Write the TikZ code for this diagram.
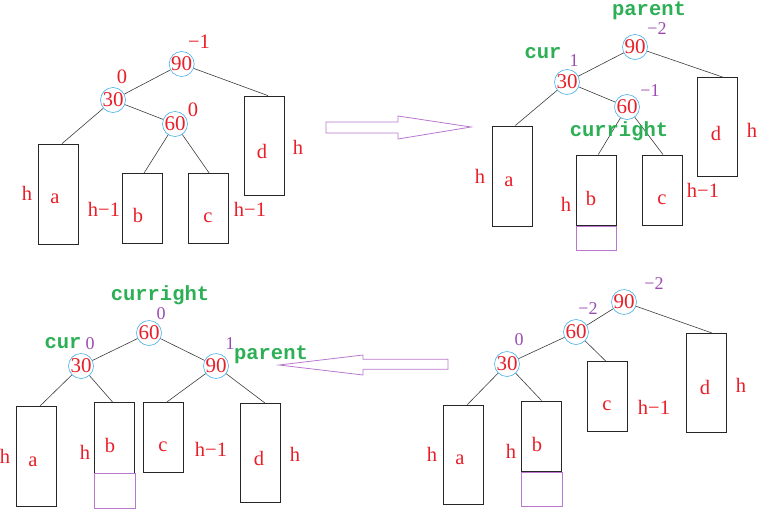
\documentclass[tikz,border=0pt]{standalone}
\usepackage{fontspec}
\setmainfont{Liberation Serif}
\newfontfamily\ptrfont{Liberation Mono}
\definecolor{lblred}{RGB}{232,30,40}
\definecolor{bfpurple}{RGB}{155,75,175}
\definecolor{ptrgreen}{RGB}{45,175,85}
\definecolor{ringblue}{RGB}{70,175,230}
\definecolor{hollow}{RGB}{185,120,205}
\definecolor{edgegray}{RGB}{60,60,60}
\tikzset{
  keynode/.style={circle, draw=ringblue, line width=0.6pt, minimum size=25pt,
    inner sep=-2pt, text=lblred, font=\fontsize{21}{21}\selectfont},
  subtree/.style={draw=black!85, line width=0.8pt, minimum width=40pt,
    minimum height=#1, inner sep=0pt},
  tag/.style={text=lblred, font=\fontsize{20.5}{20.5}\selectfont, inner sep=0pt},
  bf/.style={text=bfpurple, font=\fontsize{18}{18}\selectfont, inner sep=0pt},
  ptr/.style={text=ptrgreen, font=\ptrfont\bfseries\fontsize{20.5}{20.5}\selectfont, inner sep=0pt},
  link/.style={draw=edgegray, line width=0.6pt},
  addedpart/.style={draw=hollow, line width=0.8pt},
  hollowarrow/.style={draw=hollow, line width=0.8pt, line join=miter},
}
\begin{document}
\begin{tikzpicture}[x=1pt,y=-1pt]
\useasboundingbox (0,0) rectangle (758,509);

% ---------- insertion into the right subtree of 30 ----------
\node[keynode] (p1n90) at (181.7,64) {90};
\node[keynode] (p1n30) at (113,100) {30};
\node[keynode] (p1n60) at (175,124) {60};
\node[subtree=100] (p1a) at (58.5,194) {};
\node[subtree=70] (p1b) at (142.5,208.5) {};
\node[subtree=70] (p1c) at (208.2,208.5) {};
\node[subtree=99] (p1d) at (263.9,145.5) {};
\draw[link] (p1n90) -- (p1n30);
\draw[link] (p1n30) -- (p1n60);
\draw[link] (p1n90) -- ([xshift=4pt]p1d.north);
\draw[link] (p1n30) -- ([xshift=3.5pt]p1a.north);
\draw[link] (p1n60) -- ([xshift=1.5pt]p1b.north);
\draw[link] (p1n60) -- ([xshift=1pt]p1c.north);
\node[tag] at (199,42) {−1};
\node[tag] at (122,77) {0};
\node[tag] at (193,110) {0};
\node[tag] at (55,199) {a};
\node[tag] at (27,193) {h};
\node[tag] at (138,215) {b};
\node[tag] at (104,209) {h−1};
\node[tag] at (208,218) {c};
\node[tag] at (250,209) {h−1};
\node[tag] at (262,151) {d};
\node[tag] at (298,147) {h};

% arrow to the right
\draw[hollowarrow] (326,122) -- (398,122) -- (398,116) -- (471,127)
  -- (398,139) -- (398,133) -- (326,133) -- cycle;

% ---------- after inserting under b ----------
\node[keynode] (p2n90) at (635,47) {90};
\node[keynode] (p2n30) at (567,82) {30};
\node[keynode] (p2n60) at (627,107) {60};
\node[subtree=100] (p2a) at (512.3,175.9) {};
\node[subtree=70.7] (p2b) at (596.3,190.3) {};
\draw[addedpart] (p2b.south west) rectangle ([yshift=-24.3pt]p2b.south east);
\node[subtree=70.7] (p2c) at (662,190.3) {};
\node[subtree=99] (p2d) at (717.3,127.2) {};
\draw[link] (p2n90) -- (p2n30);
\draw[link] (p2n30) -- (p2n60);
\draw[link] (p2n90) -- ([xshift=6pt]p2d.north);
\draw[link] (p2n30) -- ([xshift=3pt]p2a.north);
\draw[link] (p2n60) -- ([xshift=2pt]p2b.north);
\draw[link] (p2n60) -- ([xshift=1pt]p2c.north);
\node[ptr] at (649,10.5) {parent};
\node[ptr] at (543,53) {cur};
\node[ptr] at (619,131) {curright};
\node[bf] at (657,29) {−2};
\node[bf] at (574,61) {1};
\node[bf] at (650,91) {−1};
\node[tag] at (509,182) {a};
\node[tag] at (480,176) {h};
\node[tag] at (591,198) {b};
\node[tag] at (566,204) {h};
\node[tag] at (662,200) {c};
\node[tag] at (703,190) {h−1};
\node[tag] at (716,133) {d};
\node[tag] at (752,130) {h};

% ---------- after left rotation at 30 ----------
\node[keynode] (p4n90) at (624,302) {90};
\node[keynode] (p4n60) at (576,332) {60};
\node[keynode] (p4n30) at (507,364) {30};
\node[subtree=99.3] (p4a) at (463.3,454.7) {};
\node[subtree=70.7] (p4b) at (541.5,436.3) {};
\draw[addedpart] (p4b.south west) rectangle ([yshift=-34.3pt]p4b.south east);
\node[subtree=70] (p4c) at (607,396.7) {};
\node[subtree=99.4] (p4d) at (706.7,383) {};
\draw[link] (p4n90) -- (p4n60);
\draw[link] (p4n60) -- (p4n30);
\draw[link] (p4n90) -- ([xshift=5pt]p4d.north);
\draw[link] (p4n60) -- ([xshift=-1pt]p4c.north);
\draw[link] (p4n30) -- ([xshift=4pt]p4a.north);
\draw[link] (p4n30) -- (p4b.north);
\node[bf] at (654,284) {−2};
\node[bf] at (588,309) {−2};
\node[bf] at (519,340) {0};
\node[tag] at (460,460) {a};
\node[tag] at (432,454) {h};
\node[tag] at (537,444) {b};
\node[tag] at (511,451) {h};
\node[tag] at (607,406) {c};
\node[tag] at (654,407) {h−1};
\node[tag] at (705,387) {d};
\node[tag] at (741,385) {h};

% arrow to the left
\draw[hollowarrow] (448,359.3) -- (363,359.3) -- (363,355) -- (279,365)
  -- (363,375) -- (363,369.3) -- (448,369.3) -- cycle;

% ---------- after right rotation at 90 ----------
\node[keynode] (p3n60) at (149,333) {60};
\node[keynode] (p3n30) at (81,366) {30};
\node[keynode] (p3n90) at (216,366) {90};
\node[subtree=100] (p3a) at (36.7,456.7) {};
\node[subtree=70.6] (p3b) at (114.8,438) {};
\draw[addedpart] (p3b.south west) rectangle ([yshift=-35pt]p3b.south east);
\node[subtree=70] (p3c) at (163,437.3) {};
\node[subtree=99.4] (p3d) at (260.8,453) {};
\draw[link] (p3n60) -- (p3n30);
\draw[link] (p3n60) -- (p3n90);
\draw[link] (p3n30) -- ([xshift=3pt]p3a.north);
\draw[link] (p3n30) -- ([xshift=-2pt]p3b.north);
\draw[link] (p3n90) -- ([xshift=4pt]p3c.north);
\draw[link] (p3n90) -- ([xshift=4pt]p3d.north);
\node[ptr] at (160,295) {curright};
\node[ptr] at (63,343) {cur};
\node[ptr] at (271,355) {parent};
\node[bf] at (161,314) {0};
\node[bf] at (90,344) {0};
\node[bf] at (230,344) {1};
\node[tag] at (33,462) {a};
\node[tag] at (5,456) {h};
\node[tag] at (110,445) {b};
\node[tag] at (85,452) {h};
\node[tag] at (163,447) {c};
\node[tag] at (211,449) {h−1};
\node[tag] at (259,458) {d};
\node[tag] at (295,454) {h};
\end{tikzpicture}
\end{document}
